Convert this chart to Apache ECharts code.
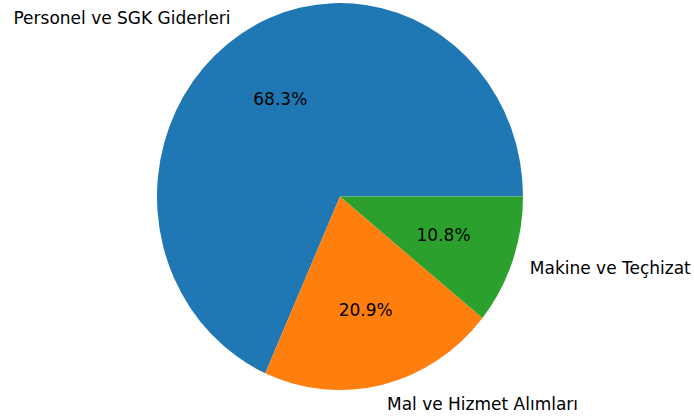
<!DOCTYPE html>
<html>
<head>
<meta charset="utf-8">
<script src="https://cdn.jsdelivr.net/npm/echarts@6/dist/echarts.min.js"></script>
<style>
  html, body { margin: 0; padding: 0; background: #fff; overflow: hidden; width: 694px; height: 418px; }
  #wrap { width: 694px; height: 460px; transform: scaleY(1.0574); transform-origin: 0 0; }
  #chart { width: 694px; height: 460px; }
</style>
</head>
<body>
<div id="wrap"><div id="chart"></div></div>
<script>
// veriler
let kategoriler = ['Personel ve SGK Giderleri', 'Mal ve Hizmet Alımları', 'Makine ve Teçhizat']
let degerler = [68.3, 20.9, 10.8]
let renkler = ['#1f77b4', '#ff7f0e', '#2ca02c']

let yaricap = 183
let merkez = [340, 185.9]

let dilimler = kategoriler.map(function (ad, i) {
    return { name: ad, value: degerler[i], itemStyle: { color: renkler[i] } }
})
let bosDilimler = kategoriler.map(function (ad, i) {
    return { name: ad, value: degerler[i] }
})

let grafik = echarts.init(document.getElementById('chart'), null, { renderer: 'svg' })

let option = {
    animation: false,
    textStyle: { fontFamily: 'DejaVu Sans' },
    series: [
        {
            type: 'pie',
            radius: [0, yaricap],
            center: merkez,
            startAngle: 0,
            clockwise: false,
            avoidLabelOverlap: false,
            silent: true,
            itemStyle: { borderWidth: 0 },
            label: {
                show: true,
                position: 'outside',
                color: '#000',
                fontSize: 17,
                fontFamily: 'DejaVu Sans',
                distanceToLabelLine: 0,
                formatter: '{b}'
            },
            labelLine: { show: false, length: yaricap * 0.1, length2: 0 },
            emphasis: { disabled: true },
            data: dilimler
        },
        {
            // yuzdeler icin gorunmez katman
            type: 'pie',
            radius: [0, 2 * (yaricap * 0.6 - 3)],
            center: merkez,
            startAngle: 0,
            clockwise: false,
            avoidLabelOverlap: false,
            silent: true,
            itemStyle: { color: 'rgba(0,0,0,0)', borderWidth: 0 },
            label: {
                show: true,
                position: 'inside',
                color: '#000',
                fontSize: 17,
                fontFamily: 'DejaVu Sans',
                formatter: function (p) { return p.percent.toFixed(1) + '%' }
            },
            labelLine: { show: false },
            emphasis: { disabled: true },
            data: bosDilimler
        }
    ]
}

grafik.setOption(option)
</script>
</body>
</html>
